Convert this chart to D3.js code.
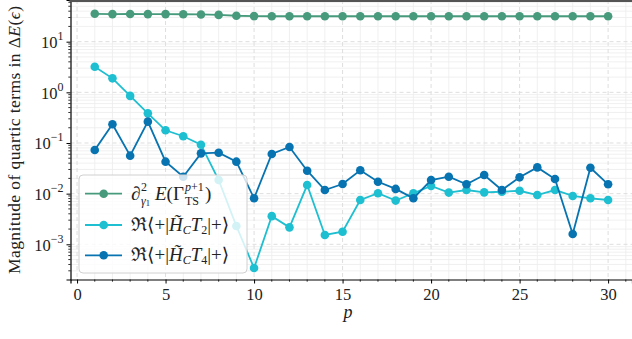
<!DOCTYPE html>
<html>
<head>
<meta charset="utf-8">
<script src="https://cdn.jsdelivr.net/npm/d3@7"></script>
<style>
body { margin: 0; background: #fff; }
svg { display: block; }
svg text { font-family: "Liberation Serif", "DejaVu Serif", serif; }
</style>
</head>
<body>
<svg id="chart" width="632" height="339"></svg>
<script>
// data
var pValues = d3.range(1, 31);
var d2E = [35.5, 35.0, 35.2, 35.0, 35.0, 34.8, 34.5, 33.8, 32.5, 32.0,
	31.8, 31.8, 31.8, 31.8, 31.8, 31.8, 31.8, 31.8, 31.8, 31.8,
	31.8, 31.8, 31.8, 31.8, 31.8, 31.8, 31.8, 31.8, 31.8, 31.8];
var reT2 = [3.2, 1.89, 0.85, 0.385, 0.178, 0.136, 0.0925, 0.0186, 0.0023, 0.00034,
	0.0036, 0.00216, 0.0148, 0.00153, 0.00177, 0.0075, 0.0102, 0.0073, 0.0102, 0.0142,
	0.0105, 0.0118, 0.0106, 0.0109, 0.0114, 0.0094, 0.0118, 0.0090, 0.0081, 0.0075];
var reT4 = [0.0728, 0.234, 0.0562, 0.264, 0.0428, 0.0216, 0.0625, 0.0644, 0.0428, 0.0081,
	0.0607, 0.0834, 0.0284, 0.0118, 0.0155, 0.029, 0.0172, 0.0124, 0.0081, 0.0186,
	0.0216, 0.0153, 0.0233, 0.0118, 0.021, 0.033, 0.0195, 0.0016, 0.0325, 0.0153];
var xTicks = [0, 5, 10, 15, 20, 25, 30];
var yTicks = [1e-3, 1e-2, 1e-1, 1e0, 1e1];
var yTickExp = ["\u22123", "\u22122", "\u22121", "0", "1"];

var colors = ["#479b7c", "#1ebfd0", "#0773b0"];

var svg = d3.select("#chart");
var m = {l: 70.5, r: 0, t: 0, b: 59.5};
var w = 632 - m.l - m.r, h = 339 - m.t - m.b;

var x = d3.scaleLinear().domain([-0.37, 31.35]).range([m.l, m.l + w]);
var y = d3.scaleLog().domain([2.02e-4, 66.5]).range([m.t + h, m.t]);

var series = [
	{vals: d2E, color: colors[0]},
	{vals: reT2, color: colors[1]},
	{vals: reT4, color: colors[2]}
];

// grid
var minorY = [];
[-4, -3, -2, -1, 0, 1].forEach(function(e) {
	for (var k = 2; k < 10; k++) {
		var v = k * Math.pow(10, e);
		if (v > y.domain()[0] && v < y.domain()[1]) minorY.push(v);
	}
});
var minorX = d3.range(0, 32).filter(function(d) { return d % 5 != 0; });

var grid = svg.append("g");
grid.selectAll(".gx").data(minorX).enter().append("line")
	.attr("x1", function(d) { return x(d); }).attr("x2", function(d) { return x(d); })
	.attr("y1", m.t).attr("y2", m.t + h)
	.attr("stroke", "#ececec").attr("stroke-width", 0.8);
grid.selectAll(".gy").data(minorY).enter().append("line")
	.attr("x1", m.l).attr("x2", m.l + w)
	.attr("y1", function(d) { return y(d); }).attr("y2", function(d) { return y(d); })
	.attr("stroke", "#ececec").attr("stroke-width", 0.8);
grid.selectAll(".gX").data(xTicks).enter().append("line")
	.attr("x1", function(d) { return x(d); }).attr("x2", function(d) { return x(d); })
	.attr("y1", m.t).attr("y2", m.t + h)
	.attr("stroke", "#dedede").attr("stroke-width", 1).attr("stroke-dasharray", "4,3");
grid.selectAll(".gY").data(yTicks).enter().append("line")
	.attr("x1", m.l).attr("x2", m.l + w)
	.attr("y1", function(d) { return y(d); }).attr("y2", function(d) { return y(d); })
	.attr("stroke", "#dedede").attr("stroke-width", 1).attr("stroke-dasharray", "4,3");

// series
var line = d3.line()
	.x(function(d, i) { return x(pValues[i]); })
	.y(function(d) { return y(d); });

series.forEach(function(s) {
	var g = svg.append("g");
	g.append("path").datum(s.vals)
		.attr("d", line).attr("fill", "none")
		.attr("stroke", s.color).attr("stroke-width", 1.8);
	g.selectAll("circle").data(s.vals).enter().append("circle")
		.attr("cx", function(d, i) { return x(pValues[i]); })
		.attr("cy", function(d) { return y(d); })
		.attr("r", 4.3).attr("fill", s.color);
});

// axes
var xAxis = svg.append("g").attr("transform", "translate(0," + (m.t + h) + ")");
xAxis.call(d3.axisBottom(x).tickValues(xTicks).tickSize(4).tickPadding(5).tickFormat(d3.format("d")));
xAxis.attr("font-family", null).attr("font-size", null);
xAxis.append("g").selectAll("line").data(minorX).enter().append("line")
	.attr("x1", function(d) { return x(d); }).attr("x2", function(d) { return x(d); })
	.attr("y1", 0).attr("y2", 2.2).attr("stroke", "#000").attr("stroke-width", 0.8);
xAxis.select(".domain").attr("stroke-width", 1.2);
xAxis.selectAll(".tick text").attr("font-size", 16.5).attr("fill", "#222");

var yAxis = svg.append("g").attr("transform", "translate(" + m.l + ",0)");
yAxis.call(d3.axisLeft(y).tickValues(yTicks).tickSize(4).tickFormat(""));
yAxis.attr("font-family", null).attr("font-size", null);
yAxis.append("g").selectAll("line").data(minorY).enter().append("line")
	.attr("x1", 0).attr("x2", -2.2)
	.attr("y1", function(d) { return y(d); }).attr("y2", function(d) { return y(d); })
	.attr("stroke", "#000").attr("stroke-width", 0.8);
yAxis.select(".domain").attr("stroke-width", 1.2);
yAxis.selectAll(".tick").each(function(d, i) {
	var t = d3.select(this).append("text")
		.attr("x", -7).attr("y", 6).attr("text-anchor", "end")
		.attr("fill", "#222").attr("font-size", 16.5);
	t.append("tspan").text("10");
	t.append("tspan").attr("dy", -8).attr("font-size", 12).text(yTickExp[i]);
});

// top edge
svg.append("line").attr("x1", m.l - 1).attr("x2", 632).attr("y1", 1).attr("y2", 1)
	.attr("stroke", "#555").attr("stroke-width", 2);

// axis labels
svg.append("text").attr("x", x(15.3)).attr("y", 318).attr("text-anchor", "middle")
	.attr("font-size", 18).attr("font-style", "italic").attr("fill", "#222").text("p");

var yl = svg.append("text")
	.attr("transform", "translate(20,140) rotate(-90)")
	.attr("text-anchor", "middle").attr("font-size", 17.5).attr("fill", "#222")
	.attr("textLength", 268).attr("lengthAdjust", "spacing");
yl.append("tspan").text("Magnitude of quartic terms in \u0394");
yl.append("tspan").attr("font-style", "italic").text("E");
yl.append("tspan").text("(");
yl.append("tspan").attr("font-style", "italic").text("\u03f5");
yl.append("tspan").text(")");

// legend
var leg = svg.append("g");
leg.append("rect").attr("x", 79).attr("y", 175).attr("width", 168).attr("height", 98)
	.attr("rx", 4).attr("fill", "#fff").attr("fill-opacity", 0.8)
	.attr("stroke", "#d0d0d0").attr("stroke-width", 1);
var rows = [193.7, 225, 255.3];
rows.forEach(function(ry, i) {
	leg.append("line").attr("x1", 85).attr("x2", 122).attr("y1", ry).attr("y2", ry)
		.attr("stroke", colors[i]).attr("stroke-width", 1.8);
	leg.append("circle").attr("cx", 103.7).attr("cy", ry).attr("r", 4.3).attr("fill", colors[i]);
});
var fs = 19;
// first legend entry: stacked scripts drawn as separate small texts
var b0 = rows[0] + 6;
leg.append("text").attr("x", 131).attr("y", b0).attr("font-size", fs).attr("fill", "#222")
	.attr("font-style", "italic").text("\u2202");
leg.append("text").attr("x", 141).attr("y", b0 - 9).attr("font-size", 12).attr("fill", "#222").text("2");
var s0 = leg.append("text").attr("x", 141).attr("y", b0 + 5).attr("font-size", 12).attr("fill", "#222");
s0.append("tspan").attr("font-style", "italic").text("\u03b3");
s0.append("tspan").attr("font-size", 8.5).attr("dy", 1.5).text("1");
var m0 = leg.append("text").attr("x", 155).attr("y", b0).attr("font-size", fs).attr("fill", "#222");
m0.append("tspan").attr("font-style", "italic").text("E");
m0.append("tspan").text("(\u0393");
var p0 = leg.append("text").attr("x", 185).attr("y", b0 - 9).attr("font-size", 12).attr("fill", "#222");
p0.append("tspan").attr("font-style", "italic").text("p");
p0.append("tspan").text("+1");
leg.append("text").attr("x", 185).attr("y", b0 + 5).attr("font-size", 12).attr("fill", "#222").text("TS");
leg.append("text").attr("x", 205).attr("y", b0).attr("font-size", fs).attr("fill", "#222").text(")");

[2, 4].forEach(function(k, j) {
	var t = leg.append("text").attr("x", 131).attr("y", rows[j + 1] + 6).attr("font-size", fs).attr("fill", "#222");
	t.append("tspan").text("\u211c\u27e8+|");
	t.append("tspan").attr("font-style", "italic").text("H\u0303");
	t.append("tspan").attr("font-size", 12).attr("dy", 3).attr("font-style", "italic").text("C");
	t.append("tspan").attr("font-style", "italic").attr("dy", -3).text("T");
	t.append("tspan").attr("font-size", 12).attr("dy", 3).text(k);
	t.append("tspan").attr("dy", -3).text("|+\u27e9");
});
</script>
</body>
</html>
